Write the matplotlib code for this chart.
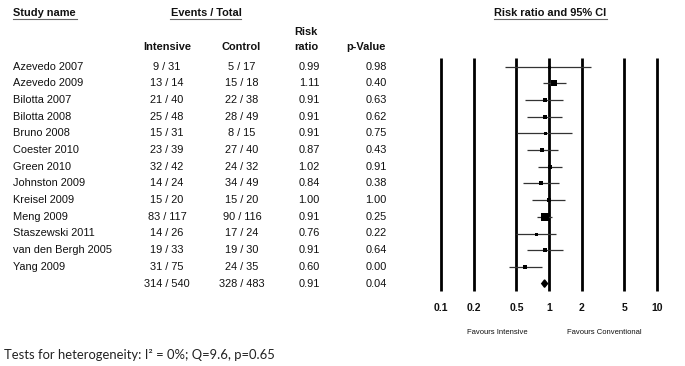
import numpy as np
import matplotlib
matplotlib.use("Agg")
import matplotlib.pyplot as plt

# data
studies = ["Azevedo 2007", "Azevedo 2009", "Bilotta 2007", "Bilotta 2008", "Bruno 2008",
           "Coester 2010", "Green 2010", "Johnston 2009", "Kreisel 2009", "Meng 2009",
           "Staszewski 2011", "van den Bergh 2005", "Yang 2009"]
intensive = ["9 / 31", "13 / 14", "21 / 40", "25 / 48", "15 / 31", "23 / 39", "32 / 42",
             "14 / 24", "15 / 20", "83 / 117", "14 / 26", "19 / 33", "31 / 75"]
control = ["5 / 17", "15 / 18", "22 / 38", "28 / 49", "8 / 15", "27 / 40", "24 / 32",
           "34 / 49", "15 / 20", "90 / 116", "17 / 24", "19 / 30", "24 / 35"]
rr = [0.99, 1.11, 0.91, 0.91, 0.91, 0.87, 1.02, 0.84, 1.00, 0.91, 0.76, 0.91, 0.60]
lower = [0.39, 0.88, 0.60, 0.63, 0.51, 0.63, 0.79, 0.58, 0.70, 0.775, 0.50, 0.62, 0.43]
upper = [2.47, 1.43, 1.36, 1.33, 1.64, 1.22, 1.31, 1.24, 1.42, 1.058, 1.17, 1.345, 0.856]
pvals = ["0.98", "0.40", "0.63", "0.62", "0.75", "0.43", "0.91", "0.38", "1.00", "0.25",
         "0.22", "0.64", "0.00"]
total_int, total_ctl = "314 / 540", "328 / 483"
total_rr, total_lo, total_hi, total_p = 0.91, 0.856, 0.97, "0.04"
ticks = [0.1, 0.2, 0.5, 1, 2, 5, 10]
tick_labels = ["0.1", "0.2", "0.5", "1", "2", "5", "10"]

W, H = 685, 366
fig = plt.figure(figsize=(W / 100, H / 100), dpi=100)
plt.rcParams['font.family'] = ['Liberation Sans', 'DejaVu Sans']

# full-figure axes in pixel units for the table text
tab = fig.add_axes([0, 0, 1, 1])
tab.set_xlim(0, W)
tab.set_ylim(H, 0)
tab.axis('off')

y0, dy = 66.5, 16.7
fs = 7.9
txt = '#111111'

# headers
tab.text(13, 13, "Study name", fontsize=fs, fontweight='bold', va='center', color=txt)
tab.plot([13, 77], [19, 19], color='#666666', lw=0.8)
tab.text(206, 13, "Events / Total", fontsize=fs, fontweight='bold', va='center', ha='center', color=txt)
tab.plot([170, 241], [19, 19], color='#666666', lw=0.8)
tab.text(550, 13, "Risk ratio and 95% CI", fontsize=fs, fontweight='bold', va='center', ha='center', color=txt)
tab.plot([494, 607], [19, 19], color='#666666', lw=0.8)
tab.text(167, 47, "Intensive", fontsize=fs, fontweight='bold', va='center', ha='center', color=txt)
tab.text(241, 47, "Control", fontsize=fs, fontweight='bold', va='center', ha='center', color=txt)
tab.text(306, 32, "Risk", fontsize=fs, fontweight='bold', va='center', ha='center', color=txt)
tab.text(306, 47, "ratio", fontsize=fs, fontweight='bold', va='center', ha='center', color=txt)
tab.text(366, 47, "p-Value", fontsize=fs, fontweight='bold', va='center', ha='center', color=txt)

for i, name in enumerate(studies):
    y = y0 + i * dy
    tab.text(13, y, name, fontsize=fs, va='center', color=txt)
    tab.text(167, y, intensive[i], fontsize=fs, va='center', ha='center', color=txt)
    tab.text(242, y, control[i], fontsize=fs, va='center', ha='center', color=txt)
    tab.text(309, y, f"{rr[i]:.2f}", fontsize=fs, va='center', ha='center', color=txt)
    tab.text(387, y, pvals[i], fontsize=fs, va='center', ha='right', color=txt)

yt = y0 + len(studies) * dy
tab.text(167, yt, total_int, fontsize=fs, va='center', ha='center', color=txt)
tab.text(242, yt, total_ctl, fontsize=fs, va='center', ha='center', color=txt)
tab.text(309, yt, f"{total_rr:.2f}", fontsize=fs, va='center', ha='center', color=txt)
tab.text(387, yt, total_p, fontsize=fs, va='center', ha='right', color=txt)

tab.text(497, 332, "Favours Intensive", fontsize=5.5, va='center', ha='center', color=txt)
tab.text(604, 332, "Favours Conventional", fontsize=5.5, va='center', ha='center', color=txt)

tab.text(4, 355, "Tests for heterogeneity: I\u00b2 = 0%; Q=9.6, p=0.65", fontsize=9.4,
         family=['Lato', 'DejaVu Sans'], va='center', color='#222222')

# forest axes: log scale, 0.1 at x=441px and 10 at x=657px
left_px, right_px = 400, 680
dec = (657 - 441) / 2.0
xmin = 10 ** (-1 - (441 - left_px) / dec)
xmax = 10 ** (1 + (right_px - 657) / dec)
top_px, bot_px = 50, 300
ax = fig.add_axes([left_px / W, 1 - bot_px / H, (right_px - left_px) / W, (bot_px - top_px) / H])
ax.set_xscale('log')
ax.set_xlim(xmin, xmax)
ax.set_ylim((bot_px - y0) / dy, (top_px - y0) / dy)
ax.axis('off')

n = len(studies)
ax.vlines(ticks, -0.5, n + 0.45, color='black', lw=2.0)
for t, lab in zip(ticks, tick_labels):
    ax.text(t, n + 1.44, lab, fontsize=7.5, fontweight='bold', ha='center', va='center',
            color=txt, clip_on=False)

rows = np.arange(n)
lo = np.array(lower)
hi = np.array(upper)
est = np.array(rr)
se = (np.log(hi) - np.log(lo)) / (2 * 1.96)
w = 1 / se ** 2
side = np.clip(np.sqrt(w) / np.sqrt(w.max()) * 8.0, 3.0, None) * 0.72

ax.hlines(rows, lo, hi, color='#333333', lw=0.9)
for i in range(n):
    ax.plot(est[i], rows[i], marker='s', ms=side[i], color='black', mec='black', mew=0)

h = 0.22
ax.fill([total_lo, total_rr, total_hi, total_rr], [n, n - h, n, n + h], color='black')

fig.savefig("out.png", dpi=100)
